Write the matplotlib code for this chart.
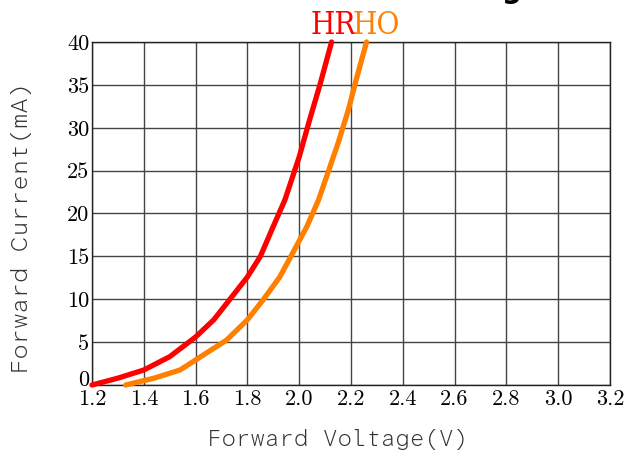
import matplotlib
matplotlib.use("Agg")
import matplotlib.pyplot as plt
from matplotlib import font_manager as fm
from matplotlib.transforms import ScaledTranslation

# Data
hr_v = [1.20, 1.30, 1.40, 1.50, 1.60, 1.67, 1.73, 1.80, 1.85, 1.90, 1.945, 2.00, 2.04, 2.08, 2.125]
hr_i = [0.0, 0.8, 1.75, 3.3, 5.6, 7.6, 9.9, 12.6, 15.0, 18.5, 21.6, 26.6, 30.9, 35.0, 40.0]
ho_v = [1.33, 1.44, 1.54, 1.63, 1.72, 1.80, 1.86, 1.925, 1.975, 2.03, 2.075, 2.15, 2.19, 2.22, 2.26]
ho_i = [0.0, 0.8, 1.75, 3.5, 5.25, 7.6, 9.9, 12.6, 15.4, 18.5, 21.6, 28.2, 32.1, 35.6, 40.0]
x_ticks = [1.2, 1.4, 1.6, 1.8, 2.0, 2.2, 2.4, 2.6, 2.8, 3.0, 3.2]
y_ticks = [0, 5, 10, 15, 20, 25, 30, 35, 40]

fonts = sorted(fm.fontManager.ttflist, key=lambda f: (f.name, f.fname))

# pick a light monospace font if one is installed
light_mono = None
for f in fonts:
    if "Mono" in f.name and "CJK" not in f.name and isinstance(f.weight, int) and f.weight <= 300 \
            and f.style == "normal" and f.stretch == "normal":
        light_mono = f.fname
        break
lab_fp = fm.FontProperties(fname=light_mono) if light_mono else fm.FontProperties(family="DejaVu Sans Mono")

fig = plt.figure(figsize=(6.28, 4.59), dpi=100)
ax = fig.add_axes([92/628, 1-385/459, (610-92)/628, (385-42)/459])

ax.plot(hr_v, hr_i, color="#ff0000", lw=3.8, solid_capstyle="round", zorder=3, clip_on=False)
ax.plot(ho_v, ho_i, color="#ff8000", lw=3.8, solid_capstyle="round", zorder=3, clip_on=False)

ax.set_xlim(1.2, 3.2)
ax.set_ylim(0, 40)
ax.set_xticks(x_ticks)
ax.set_yticks(y_ticks)
ax.set_xticklabels([f"{v:.1f}" for v in x_ticks], family="cmr10", fontsize=16)
ax.set_yticklabels([str(v) for v in y_ticks], family="cmr10", fontsize=16)
ax.tick_params(length=0, pad=3)
ax.tick_params(axis="y", pad=2)
ax.grid(True, color="#444444", lw=1.0)
for s in ax.spines.values():
    s.set_color("#222222")
    s.set_linewidth(1.0)

# raise the "0" label a little, as in the reference
lab0 = ax.get_yticklabels()[0]
lab0.set_transform(lab0.get_transform() + ScaledTranslation(0, 7/100, fig.dpi_scale_trans))

fig.text(337/628, 1-440/459, "Forward Voltage(V)", color="#333333", fontproperties=lab_fp,
         fontsize=16.5, ha="center", va="center")
fig.text(22/628, 1-228/459, "Forward Current(mA)", color="#333333", fontproperties=lab_fp,
         fontsize=17.5, ha="center", va="center", rotation=90)

fig.text(311/628, 1-34/459, "HR", color="#ff0000", family="DejaVu Serif", stretch="condensed",
         fontweight="light", fontsize=22.5, ha="left", va="baseline")
fig.text(353/628, 1-34/459, "HO", color="#ff8000", family="DejaVu Serif", stretch="condensed",
         fontweight="light", fontsize=22.5, ha="left", va="baseline")
fig.text(512/628, 1.004, "g", color="black", family="DejaVu Sans", fontweight="bold",
         fontsize=20, ha="center", va="baseline")

fig.savefig("out.png", dpi=100)
